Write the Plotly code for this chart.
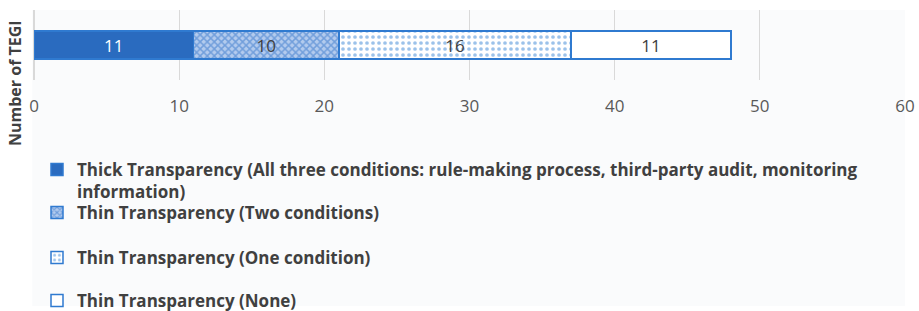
import plotly.graph_objects as go

category = ["Number of TEGI"]
series_names = [
    "Thick Transparency (All three conditions: rule-making process, third-party audit, monitoring<br>information)",
    "Thin Transparency (Two conditions)",
    "Thin Transparency (One condition)",
    "Thin Transparency (None)",
]
values_thick = [11]
values_two = [10]
values_one = [16]
values_none = [11]
x_ticks = [0, 10, 20, 30, 40, 50, 60]

BLUE = "#2a6bbf"
EDGE = "#2f7ad0"
W, H = 919, 311

styles = [
    dict(color=BLUE, pattern=None, tc="white"),
    dict(color="white", pattern=dict(shape="x", fgcolor="#2f72c8", bgcolor="#b3cbee", size=5, solidity=0.5, fillmode="overlay"), tc="#404040"),
    dict(color="white", pattern=dict(shape=".", fgcolor="#3a86d6", bgcolor="white", size=6, solidity=0.3, fillmode="overlay"), tc="#404040"),
    dict(color="white", pattern=None, tc="#404040"),
]
vals = [values_thick, values_two, values_one, values_none]
legend_ids = ["legend", "legend2", "legend3", "legend4"]
legend_y = [152, 195, 240, 283]

fig = go.Figure()
for name, v, st, lid in zip(series_names, vals, styles, legend_ids):
    marker = dict(color=st["color"], line=dict(color=EDGE, width=1.5))
    if st["pattern"]:
        marker["pattern"] = st["pattern"]
    fig.add_trace(go.Bar(
        y=category, x=v, orientation="h", name=name, marker=marker,
        text=[str(a) for a in v], textposition="inside", insidetextanchor="middle",
        textangle=0, constraintext="none",
        textfont=dict(size=17, color=st["tc"], family="Open Sans"),
        width=0.4, legend=lid,
    ))

leg_common = dict(xref="container", yref="container", xanchor="left", yanchor="top",
                  bgcolor="rgba(0,0,0,0)", valign="top",
                  font=dict(family="Open Sans", size=17, color="#404040", weight="bold"))
layout_legends = {}
for lid, ly in zip(legend_ids, legend_y):
    layout_legends[lid] = dict(x=37 / W, y=1 - ly / H, **leg_common)

fig.update_layout(
    width=W, height=H,
    barmode="stack",
    paper_bgcolor="white",
    plot_bgcolor="#fafbfc",
    margin=dict(l=34, r=14, t=10, b=231, autoexpand=False),
    showlegend=True,
    font=dict(family="Open Sans", color="#595959"),
    xaxis=dict(range=[0, 60], tickvals=x_ticks, showgrid=True, gridcolor="#d9d9d9",
               gridwidth=1, zeroline=True, zerolinecolor="#d9d9d9", showline=False,
               tickfont=dict(size=17, color="#595959"), ticklabelstandoff=14),
    yaxis=dict(showticklabels=False, showgrid=False, zeroline=False, range=[-0.5, 0.5]),
    **layout_legends,
)

fig.add_shape(type="rect", xref="paper", yref="paper", x0=-0.002, x1=1.0,
              y0=(80 - 306) / 70, y1=1, fillcolor="#fafbfc", line=dict(width=0), layer="below")

fig.add_annotation(text="<b>Number of TEGI</b>", textangle=-90, xref="paper", yref="paper",
                   x=-19 / 871, y=(80 - 83) / 70, xanchor="center", yanchor="middle",
                   showarrow=False, font=dict(family="Open Sans", size=16, color="#404040"))

fig.write_html("out.html", config={"displayModeBar": False},
               post_script="document.body.style.margin='0';")
